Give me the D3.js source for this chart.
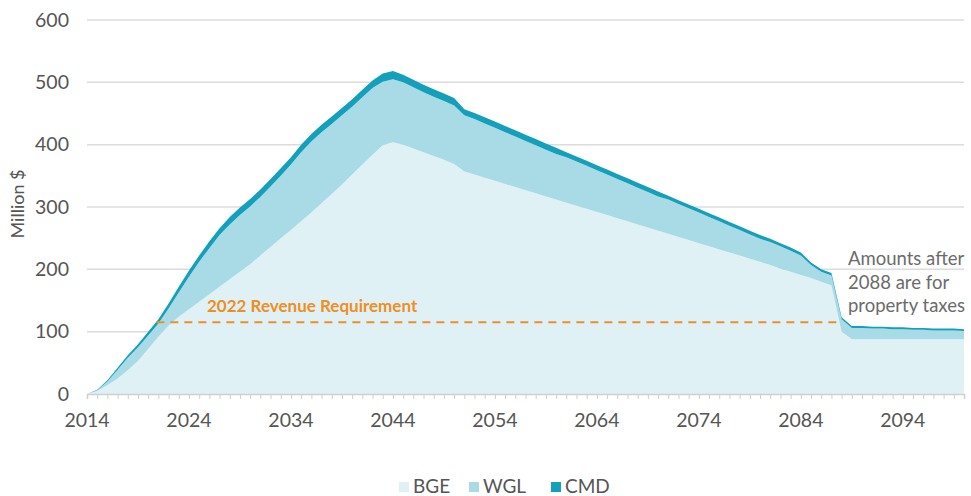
<!DOCTYPE html>
<html lang="en">
<head>
  <meta charset="UTF-8">
  <title>Revenue by company</title>
  <script src="https://d3js.org/d3.v7.min.js"></script>
  <style>
    html, body {
      margin: 0;
      background: #fff;
      font-family: Lato, "Open Sans", sans-serif;
    }
    .tick-label { fill: #555; font-size: 19.5px; }
    .axis-title { fill: #555; font-size: 18px; }
    .note { fill: #6b6b6b; font-size: 18.5px; }
    .ref-label { fill: #ef8f22; font-size: 17px; font-weight: bold; }
    .legend-label { fill: #555; font-size: 19px; }
  </style>
</head>
<body>
  <div id="chart"></div>

  <script>
    const years = d3.range(2014, 2101);

    // values in million $, one per year 2014..2100
    const bge = [
      0, 5, 14, 25, 38, 53, 72, 92, 110, 124,
      136, 148, 160, 172, 184, 196, 208, 222, 236, 250,
      263, 277, 291, 306, 321, 336, 352, 368, 384, 399,
      404, 400, 394, 388, 382, 376, 369, 357, 352, 347,
      342, 337, 332, 327, 322, 317, 312, 307, 302, 297,
      292, 287, 282, 277, 272, 267, 262, 257, 252, 247,
      242, 237, 232, 227, 222, 217, 212, 207, 201, 196,
      191, 186, 180, 174, 100, 88, 88, 88, 88, 88,
      88, 88, 88, 88, 88, 88, 88
    ];
    const wgl = [
      0, 1, 6, 14, 20, 22, 22, 21, 27, 39,
      52, 64, 74, 83, 88, 91, 93, 94, 97, 100,
      105, 111, 114, 114, 112, 111, 109, 108, 107, 102,
      101, 100, 98, 96, 95, 94, 94, 90, 89, 87,
      85, 83, 81, 79, 77, 75, 73, 73, 71, 69,
      67, 65, 63, 61, 59, 57, 55, 55, 53, 51,
      49, 47, 45, 43, 41, 39, 37, 37, 36, 34,
      31, 21, 16, 16, 20, 18, 18, 17, 17, 16,
      16, 15, 15, 14, 14, 14, 13
    ];
    const cmd = [
      0, 1, 2, 3, 4, 5, 6, 7, 8, 9,
      10, 10, 11, 11, 12, 12, 12, 12, 12, 12,
      12, 12, 12, 12, 12, 12, 12, 12, 12, 13,
      13, 12, 12, 12, 12, 12, 12, 10, 10, 10,
      10, 10, 10, 10, 10, 10, 10, 8, 8, 8,
      8, 8, 8, 8, 8, 8, 8, 6, 6, 6,
      6, 6, 6, 6, 6, 6, 6, 5, 5, 5,
      5, 4, 4, 4, 3, 3, 3, 3, 3, 3,
      3, 3, 3, 3, 3, 3, 3
    ];

    const series = ["BGE", "WGL", "CMD"];
    const colors = ["#e0f1f6", "#a9dbe6", "#149fba"];

    const yTicks = [0, 100, 200, 300, 400, 500, 600];
    const xTickYears = [2014, 2024, 2034, 2044, 2054, 2064, 2074, 2084, 2094];

    const revenueRequirement = 115;
    const refStart = 2020.8, refEnd = 2088;
    const refText = "2022 Revenue Requirement";
    const noteLines = ["Amounts after", "2088 are for", "property taxes"];

    const W = 971, H = 496;
    const margin = { top: 20, right: 7, bottom: 102, left: 87 };

    const x = d3.scaleLinear().domain([2014, 2100]).range([margin.left, W - margin.right]);
    const y = d3.scaleLinear().domain([0, 600]).range([H - margin.bottom, margin.top]);

    const svg = d3.select("#chart").append("svg")
      .attr("width", W)
      .attr("height", H);

    // gridlines
    svg.append("g")
      .selectAll("line")
      .data(yTicks.filter(d => d > 0))
      .join("line")
      .attr("x1", x(2014))
      .attr("x2", x(2100))
      .attr("y1", d => y(d))
      .attr("y2", d => y(d))
      .attr("stroke", "#dcdcdc")
      .attr("stroke-width", 1.5);

    // stacked areas
    const rows = years.map((yr, i) => ({ year: yr, BGE: bge[i], WGL: wgl[i], CMD: cmd[i] }));
    const stacked = d3.stack().keys(series)(rows);

    const area = d3.area()
      .x(d => x(d.data.year))
      .y0(d => y(d[0]))
      .y1(d => y(d[1]));

    svg.append("g")
      .selectAll("path")
      .data(stacked)
      .join("path")
      .attr("d", area)
      .attr("fill", (d, i) => colors[i]);

    // y tick labels
    svg.append("g")
      .selectAll("text")
      .data(yTicks)
      .join("text")
      .attr("class", "tick-label")
      .attr("x", margin.left - 18)
      .attr("y", d => y(d))
      .attr("dy", "0.35em")
      .attr("text-anchor", "end")
      .text(d => d);

    // x axis with yearly minor ticks
    const xAxis = svg.append("g")
      .attr("transform", `translate(0,${y(0)})`)
      .call(d3.axisBottom(x).tickValues(years).tickSize(5).tickFormat(""));
    xAxis.select(".domain").attr("stroke", "#d0d0d0").attr("stroke-width", 1.5);
    xAxis.selectAll(".tick line").attr("stroke", "#cfcfcf");

    svg.append("g")
      .selectAll("text")
      .data(xTickYears)
      .join("text")
      .attr("class", "tick-label")
      .attr("x", d => x(d))
      .attr("y", y(0) + 33)
      .attr("text-anchor", "middle")
      .text(d => d);

    // y axis title
    svg.append("text")
      .attr("class", "axis-title")
      .attr("transform", `translate(24,${(y(0) + y(600)) / 2 - 3}) rotate(-90)`)
      .attr("text-anchor", "middle")
      .text("Million $");

    // revenue requirement line
    svg.append("line")
      .attr("x1", x(refStart))
      .attr("x2", x(refEnd))
      .attr("y1", y(revenueRequirement))
      .attr("y2", y(revenueRequirement))
      .attr("stroke", "#ef8f22")
      .attr("stroke-width", 2)
      .attr("stroke-dasharray", "8,6");

    svg.append("text")
      .attr("class", "ref-label")
      .attr("x", 207)
      .attr("y", y(revenueRequirement) - 10)
      .text(refText);

    // note
    svg.append("g")
      .selectAll("text")
      .data(noteLines)
      .join("text")
      .attr("class", "note")
      .attr("x", 848)
      .attr("y", (d, i) => 265 + i * 23.5)
      .text(d => d);

    // legend
    const legendX = [399, 469, 551];
    const legend = svg.append("g")
      .selectAll("g")
      .data(series)
      .join("g")
      .attr("transform", (d, i) => `translate(${legendX[i]},482)`);
    legend.append("rect")
      .attr("width", 10)
      .attr("height", 10)
      .attr("fill", (d, i) => colors[i]);
    legend.append("text")
      .attr("class", "legend-label")
      .attr("x", 14)
      .attr("y", 11)
      .text(d => d);
  </script>
</body>
</html>
